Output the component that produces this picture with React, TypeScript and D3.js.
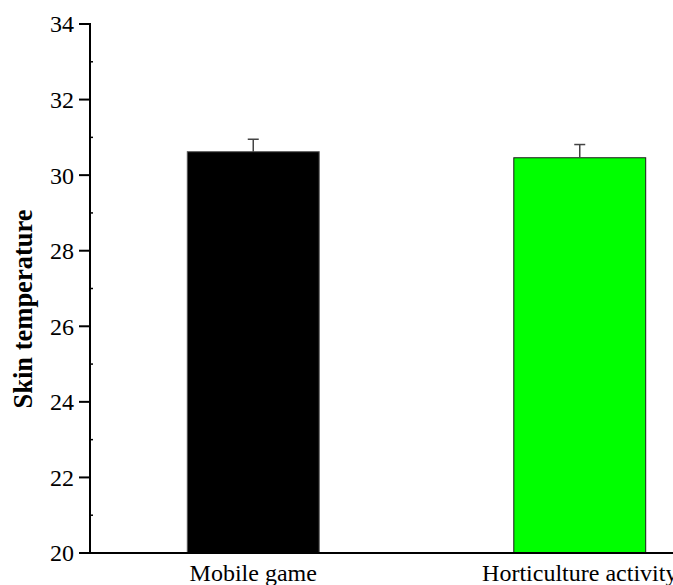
import React, { useEffect, useRef } from 'react';
import * as d3 from 'd3';

const categories = ['Mobile game', 'Horticulture activity'];
const means = [30.62, 30.46];
const errors = [0.33, 0.35];
const barColors = ['#000000', '#00ff00'];
const yTicks = [20, 22, 24, 26, 28, 30, 32, 34];
const yMinorTicks = [21, 23, 25, 27, 29, 31, 33];

const W = 673;
const H = 585;
const FONT = '"Liberation Serif", "Times New Roman", serif';

const App = () => {
  const ref = useRef<SVGSVGElement | null>(null);

  useEffect(() => {
    if (!ref.current) return;
    const svg = d3.select(ref.current);
    svg.selectAll('*').remove();

    const left = 90;
    const top = 24;
    const bottom = 553;

    const y = d3.scaleLinear().domain([20, 34]).range([bottom, top]);
    const x = d3.scaleBand().domain(categories).range([left, 743]).paddingInner(0).paddingOuter(0);
    const barW = x.bandwidth() * 0.404;

    // bars
    categories.forEach((c, i) => {
      const cx = (x(c) as number) + x.bandwidth() / 2;
      svg.append('rect')
        .attr('x', cx - barW / 2)
        .attr('y', y(means[i]))
        .attr('width', barW)
        .attr('height', bottom - y(means[i]))
        .attr('fill', barColors[i])
        .attr('stroke', i === 0 ? '#555' : '#1a1a1a')
        .attr('stroke-width', 1);
      // error bar
      svg.append('line')
        .attr('x1', cx).attr('x2', cx)
        .attr('y1', y(means[i])).attr('y2', y(means[i] + errors[i]))
        .attr('stroke', '#444').attr('stroke-width', 1.5);
      svg.append('line')
        .attr('x1', cx - 5.5).attr('x2', cx + 5.5)
        .attr('y1', y(means[i] + errors[i])).attr('y2', y(means[i] + errors[i]))
        .attr('stroke', '#444').attr('stroke-width', 1.5);
      // category label
      svg.append('text')
        .attr('x', cx).attr('y', 581)
        .attr('text-anchor', 'middle')
        .style('font-family', FONT).style('font-size', '24px')
        .attr('fill', '#000')
        .text(c);
    });

    // y axis
    svg.append('line')
      .attr('x1', left).attr('x2', left)
      .attr('y1', top - 1).attr('y2', bottom + 1)
      .attr('stroke', '#000').attr('stroke-width', 2);
    yTicks.forEach(t => {
      svg.append('line')
        .attr('x1', left - 11).attr('x2', left)
        .attr('y1', y(t)).attr('y2', y(t))
        .attr('stroke', '#000').attr('stroke-width', 2);
      svg.append('text')
        .attr('x', left - 16).attr('y', y(t))
        .attr('dy', '0.35em')
        .attr('text-anchor', 'end')
        .style('font-family', FONT).style('font-size', '24px')
        .attr('fill', '#000')
        .text(t);
    });
    yMinorTicks.forEach(t => {
      svg.append('line')
        .attr('x1', left).attr('x2', left + 3)
        .attr('y1', y(t)).attr('y2', y(t))
        .attr('stroke', '#000').attr('stroke-width', 1.5);
    });

    // x axis
    svg.append('line')
      .attr('x1', left - 11).attr('x2', W)
      .attr('y1', bottom).attr('y2', bottom)
      .attr('stroke', '#000').attr('stroke-width', 2);

    // y label
    svg.append('text')
      .attr('transform', `translate(32,309) rotate(-90)`)
      .attr('text-anchor', 'middle')
      .style('font-family', FONT).style('font-size', '26.5px').style('font-weight', 'bold')
      .attr('fill', '#000')
      .text('Skin temperature');
  }, []);

  return (
    <svg ref={ref} width={W} height={H} style={{ position: 'absolute', left: 0, top: 0, background: '#fff' }} />
  );
};

export default App;
